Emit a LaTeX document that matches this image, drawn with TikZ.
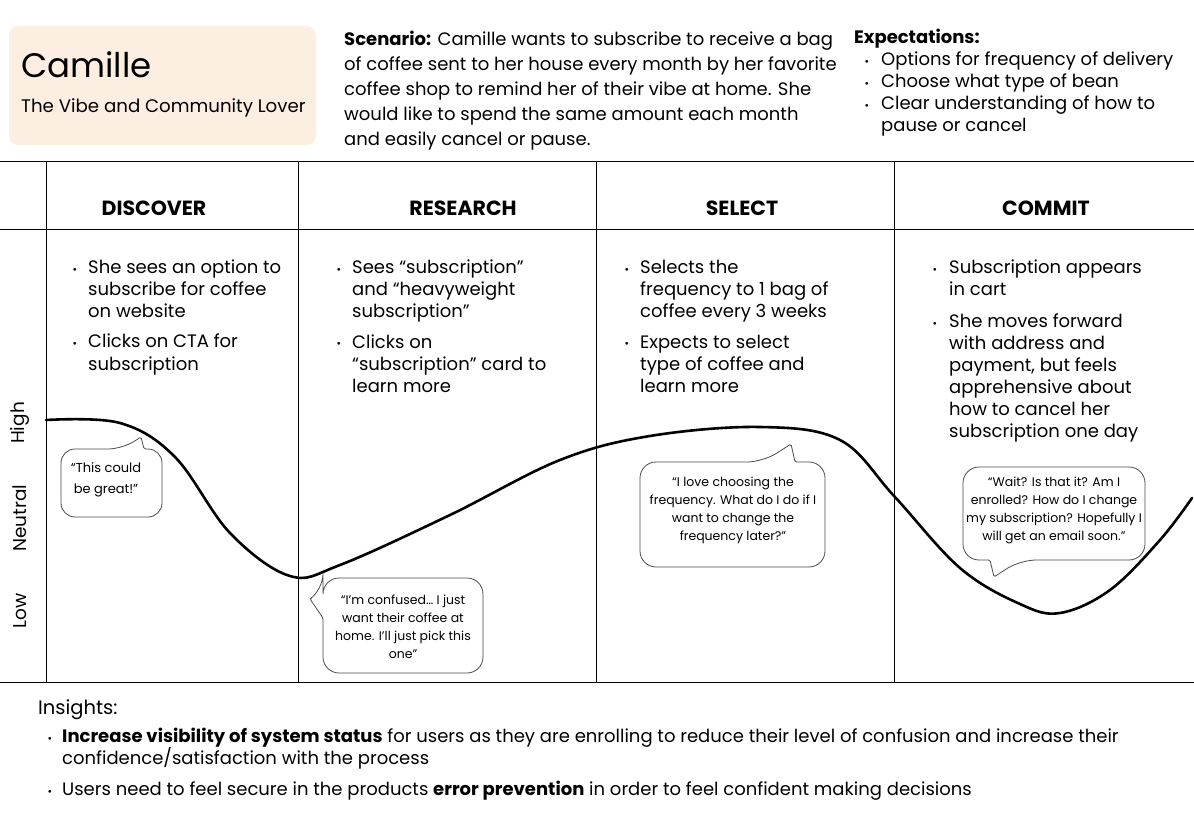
\documentclass[tikz,border=0pt]{standalone}
\usepackage{fontspec}
\setmainfont{Poppins}
\definecolor{peach}{HTML}{FDEEE2}
\begin{document}
\begin{tikzpicture}[x=1pt,y=-1pt]
\tikzset{
 body/.style={anchor=base west, inner sep=0pt, align=left, font=\fontsize{18}{22}\selectfont},
 bdot/.style={anchor=base, inner sep=0pt, font=\fontsize{11}{22}\selectfont},
 hdr/.style={anchor=base, inner sep=0pt, font=\bfseries\fontsize{20.5}{22}\selectfont},
 bub/.style={draw=black!70, line width=0.8pt, fill=white},
 bubtext/.style={align=center, inner sep=0pt, font=\fontsize{12.5}{18}\selectfont},
 gridline/.style={line width=0.8pt},
 axislabel/.style={rotate=90, inner sep=0pt, font=\fontsize{18.5}{20}\selectfont},
}
\useasboundingbox (0,0) rectangle (1194,834);
\fill[white] (0,0) rectangle (1194,834);
% persona
\fill[peach, rounded corners=9] (9,26) rectangle (316,145);
\node[anchor=base west, inner sep=0pt, font=\fontsize{34}{36}\selectfont] (name) at (21,78) {Camille};
\node[anchor=base west, inner sep=0pt, font=\fontsize{18.2}{20}\selectfont] (role) at (21,113) {The Vibe and Community Lover};
% scenario
\node[body, font=\fontsize{18}{25}\selectfont] (scen) at (344,146) {\textbf{Scenario:} Camille wants to subscribe to receive a bag\\of coffee sent to her house every month by her favorite\\coffee shop to remind her of their vibe at home. She\\would like to spend the same amount each month\\and easily cancel or pause.};
% expectations
\node[body, font=\bfseries\fontsize{18}{22}\selectfont] (exph) at (854,44) {Expectations:};
\node[bdot] (ed1) at (867,66) {•};
\node[body] (e1) at (881,66) {Options for frequency of delivery};
\node[bdot] (ed2) at (867,88) {•};
\node[body] (e2) at (881,88) {Choose what type of bean};
\node[bdot] (ed3) at (867,110) {•};
\node[body] (e3) at (881,132) {Clear understanding of how to\\pause or cancel};
% grid
\draw[gridline] (0,161) -- (1194,161);
\draw[gridline] (0,229) -- (1194,229);
\draw[gridline] (0,682) -- (1194,682);
\foreach \x in {46,298,596,894} \draw[gridline] (\x,161) -- (\x,682);
% headers
\node[hdr] (h1) at (154,216) {DISCOVER};
\node[hdr] (h2) at (463,216) {RESEARCH};
\node[hdr] (h3) at (742,216) {SELECT};
\node[hdr] (h4) at (1046,216) {COMMIT};
% column 1
\node[bdot] (c1d1) at (75,274) {•};
\node[body] (c1a) at (88,318) {She sees an option to\\subscribe for coffee\\on website};
\node[bdot] (c1d2) at (75,348) {•};
\node[body] (c1b) at (88,370) {Clicks on CTA for\\subscription};
% column 2
\node[bdot] (c2d1) at (339,274) {•};
\node[body] (c2a) at (352,318) {Sees “subscription”\\and “heavyweight\\subscription”};
\node[bdot] (c2d2) at (339,348) {•};
\node[body] (c2b) at (352,392) {Clicks on\\“subscription” card to\\learn more};
% column 3
\node[bdot] (c3d1) at (627,274) {•};
\node[body] (c3a) at (640,318) {Selects the\\frequency to 1 bag of\\coffee every 3 weeks};
\node[bdot] (c3d2) at (627,348) {•};
\node[body] (c3b) at (640,392) {Expects to select\\type of coffee and\\learn more};
% column 4
\node[bdot] (c4d1) at (935,274) {•};
\node[body] (c4a) at (949,296) {Subscription appears\\in cart};
\node[bdot] (c4d2) at (935,327) {•};
\node[body] (c4b) at (949,437) {She moves forward\\with address and\\payment, but feels\\apprehensive about\\how to cancel her\\subscription one day};
% axis labels
\node[axislabel] (hi) at (20,423) {High};
\node[axislabel] (ne) at (20,518) {Neutral};
\node[axislabel] (lo) at (20,611) {Low};
% curve
\draw[line width=2.6pt, line cap=round] plot[smooth, tension=0.6] coordinates {(46,420) (120,423) (175,457) (230,533) (290,576) (340,565) (450,515) (560,460) (650,436) (760,427) (840,440) (894,496) (960,568) (1020,604) (1060,613) (1110,590) (1160,540) (1192,498)};
% bubbles
\draw[bub] (122,449) [rounded corners=1.5] -- (141,437) -- (144,449) [rounded corners=14] -- (162,449) -- (162,517) -- (61,517) -- (61,449) -- cycle;
\node[bubtext, font=\fontsize{13}{21}\selectfont] (b1) at (106,480) {“This could\\be great!”};
\draw[bub] (323,590) [rounded corners=1.5] -- (310,599) -- (323,618) [rounded corners=16] -- (323,673) -- (483,673) -- (483,578) -- (323,578) -- cycle;
\node[bubtext] (b2) at (403,627) {“I’m confused… I just\\want their coffee at\\home. I’ll just pick this\\one”};
\draw[bub] (763,462) [rounded corners=1.5] -- (791,444) -- (795,462) [rounded corners=16] -- (825,462) -- (825,567) -- (640,567) -- (640,462) -- cycle;
\node[bubtext] (b3) at (733,510) {“I love choosing the\\frequency. What do I do if I\\want to change the\\frequency later?”};
\draw[bub] (1020,560) [rounded corners=1.5] -- (994,577) -- (990,560) [rounded corners=16] -- (963,560) -- (963,467) -- (1145,467) -- (1145,560) -- cycle;
\node[bubtext] (b4) at (1054,510) {“Wait? Is that it? Am I\\enrolled? How do I change\\my subscription? Hopefully I\\will get an email soon.”};
% insights
\node[body, font=\fontsize{19.5}{22}\selectfont] (ins) at (38,714) {Insights:};
\node[bdot] (id1) at (50,742) {•};
\node[body] (i1) at (62,764) {\textbf{Increase visibility of system status} for users as they are enrolling to reduce their level of confusion and increase their\\confidence/satisfaction with the process};
\node[bdot] (id2) at (50,795) {•};
\node[body] (i2) at (62,795) {Users need to feel secure in the products \textbf{error prevention} in order to feel confident making decisions};
\end{tikzpicture}
\end{document}
